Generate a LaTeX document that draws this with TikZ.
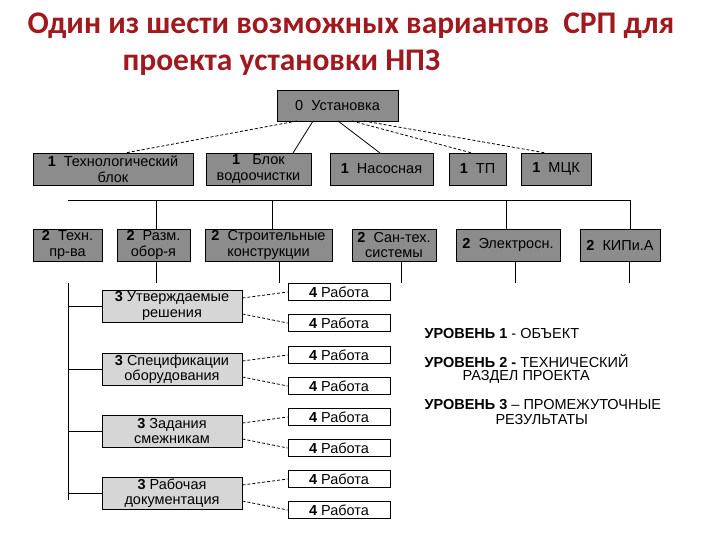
\documentclass[tikz,border=0pt]{standalone}
\usepackage{fontspec}
\setmainfont{Liberation Sans}
\newfontfamily\titlefont{Carlito}
\definecolor{dg}{HTML}{8C8C8C}
\definecolor{lg}{HTML}{D6D6D6}
\definecolor{tred}{HTML}{A0191E}
\begin{document}
\begin{tikzpicture}[x=1pt,y=-1pt,
  bx/.style={draw=black, line width=0.8pt, inner sep=0pt, align=center, font=\fontsize{14.5}{15.5}\selectfont},
  lv0/.style={bx, fill=dg},
  lv1/.style={bx, fill=dg},
  lv2/.style={bx, fill=dg},
  lv3/.style={bx, fill=lg},
  lv4/.style={bx, fill=white},
  ln/.style={line width=0.8pt},
  dl/.style={line width=0.8pt, dashed, dash pattern=on 3pt off 2pt},
  lg/.style={anchor=west, font=\fontsize{14.5}{15}\selectfont}]
\useasboundingbox (0,0) rectangle (720,540);
\node[anchor=west, text=tred, font=\titlefont\bfseries\fontsize{31.5}{34}\selectfont] (t1) at (24,26) {Один из шести возможных вариантов\ \ СРП для};
\node[anchor=west, text=tred, font=\titlefont\bfseries\fontsize{31.5}{34}\selectfont] (t2) at (119,63) {проекта установки НПЗ};

\node[lv0, minimum width=121, minimum height=31] (u0) at (337.5,105.5) {0\ \ Установка};

\node[lv1, minimum width=160, minimum height=32] (a1) at (113,169) {\textbf{1}\ \ Технологический\\блок};
\node[lv1, minimum width=105, minimum height=32] (a2) at (258.5,169) {\textbf{1}\ \ \ Блок\\водоочистки};
\node[lv1, minimum width=103, minimum height=32] (a3) at (381.5,169) {\textbf{1}\ \ Насосная};
\node[lv1, minimum width=57, minimum height=32] (a4) at (477.5,169) {\textbf{1}\ \ ТП};
\node[lv1, minimum width=70, minimum height=32] (a5) at (556,169) {\textbf{1}\ \ МЦК};

\draw[dl] (297,121) coordinate (s1) -- (125,153) coordinate (e1);
\draw[ln] (313,121) coordinate (s2) -- (293,153) coordinate (e2);
\draw[ln] (338,121) coordinate (s3) -- (380,153) coordinate (e3);
\draw[dl] (352,121) coordinate (s4) -- (472,153) coordinate (e4);
\draw[dl] (364,121) coordinate (s5) -- (546,153) coordinate (e5);

\coordinate (busL) at (68,200);
\coordinate (busR) at (630,200);
\draw[ln] (busL) -- (busR);
\foreach \x in {156,272,506,630} \draw[ln] (\x,200) -- (\x,229);

\node[lv2, minimum width=69, minimum height=32] (b1) at (67.5,245) {\textbf{2}\ \ Техн.\\пр-ва};
\node[lv2, minimum width=73, minimum height=32] (b2) at (153.5,245) {\textbf{2}\ \ Разм.\\обор-я};
\node[lv2, minimum width=127, minimum height=32] (b3) at (268.5,245) {\textbf{2}\ \ Строительные\\конструкции};
\node[lv2, minimum width=84, minimum height=32] (b4) at (394,245) {\textbf{2}\ \ Сан-тех.\\системы};
\node[lv2, minimum width=104, minimum height=32] (b5) at (508,245) {\textbf{2}\ \ Электросн.};
\node[lv2, minimum width=80, minimum height=32] (b6) at (620,245) {\textbf{2}\ \ КИПи.А};

\foreach \x in {156,279,401,515,629} \draw[ln] (\x,261) -- (\x,283);

\draw[ln] (68,283) -- (68,500);
\foreach \i/\c/\t in {1/306/{\textbf{3} Утверждаемые\\решения},2/369/{\textbf{3} Спецификации\\оборудования},3/431/{\textbf{3} Задания\\смежникам},4/493/{\textbf{3} Рабочая\\документация}}{
  \node[lv3, minimum width=140, minimum height=32] (c\i) at (172,\c) {\t};
  \draw[ln] (68,\c) -- (c\i.west);
  \pgfmathsetmacro\ya{\c-14}
  \pgfmathsetmacro\yb{\c+17}
  \node[lv4, minimum width=102, minimum height=17] (d\i a) at (339,\ya) {\textbf{4} Работа};
  \node[lv4, minimum width=102, minimum height=17] (d\i b) at (339,\yb) {\textbf{4} Работа};
  \draw[dl] ([yshift=8pt]c\i.east) -- (d\i a.west);
  \draw[dl] ([yshift=-8pt]c\i.east) -- (d\i b.west);
}

\node[lg] (l1) at (421,334) {\textbf{УРОВЕНЬ 1} - ОБЪЕКТ};
\node[lg] (l2) at (421,361) {\textbf{УРОВЕНЬ 2 -} ТЕХНИЧЕСКИЙ};
\node[lg] (l2b) at (459,377) {РАЗДЕЛ ПРОЕКТА};
\node[lg] (l3) at (421,405) {\textbf{УРОВЕНЬ 3} -- ПРОМЕЖУТОЧНЫЕ};
\node[lg] (l3b) at (492,420) {РЕЗУЛЬТАТЫ};
\end{tikzpicture}
\end{document}
